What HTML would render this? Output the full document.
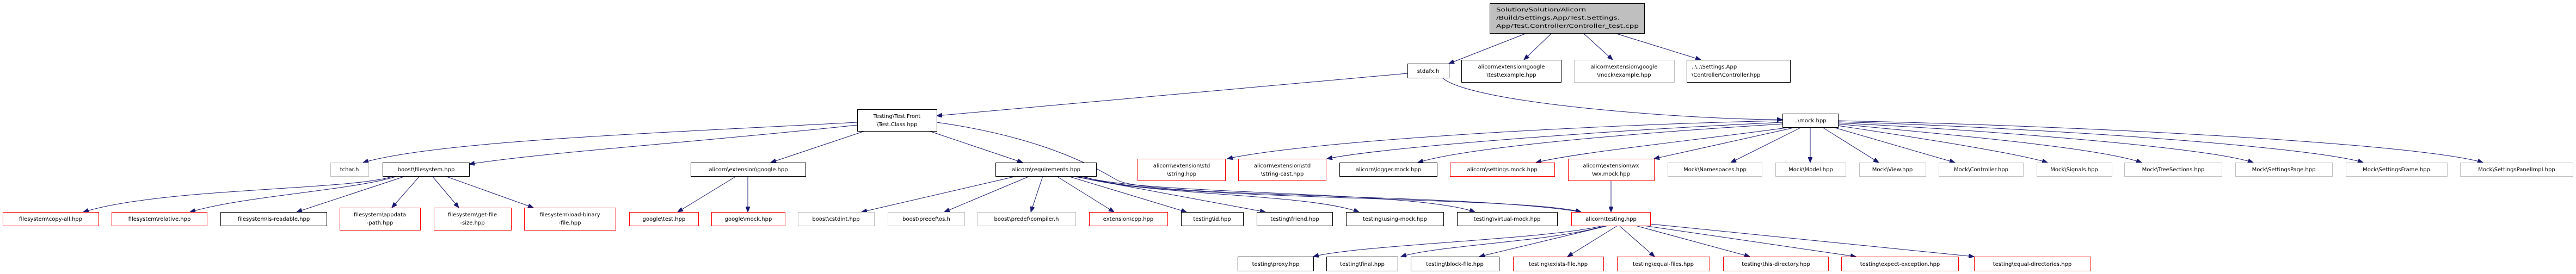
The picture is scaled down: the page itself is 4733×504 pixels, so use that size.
<!DOCTYPE html>
<html><head><meta charset="utf-8"><style>
html,body{margin:0;padding:0;background:#fff;width:4733px;height:504px;overflow:hidden}
text{font-family:"DejaVu Sans","Liberation Sans",sans-serif;font-size:10px;fill:#000}
.b{fill:#fff;stroke:#000;stroke-width:1}
.r{fill:#fff;stroke:#ff0000;stroke-width:1}
.g{fill:#fff;stroke:#bfbfbf;stroke-width:1}
.e{fill:none;stroke:#191970;stroke-width:1;marker-end:url(#a)}
</style></head><body>
<svg width="4733" height="504" xmlns="http://www.w3.org/2000/svg">
<defs><marker id="a" markerUnits="userSpaceOnUse" markerWidth="11" markerHeight="8" refX="10" refY="4" orient="auto"><path d="M0,0 L10,4 L0,8 z" fill="#191970" stroke="#191970"/></marker></defs>
<g>
<!-- edges -->
<path class="e" d="M2805,61 L2662,117"/>
<path class="e" d="M2851,61 L2800,110"/>
<path class="e" d="M2909,61 L2963,110"/>
<path class="e" d="M2967,61 L3125,110"/>
<path class="e" d="M2586,135 L1721,213"/>
<path class="e" d="M2650,143 C2700,190 3100,220 3275,220"/>
<path class="e" d="M1575,225 C1200,245 800,260 667,299"/>
<path class="e" d="M1575,230 C1300,260 1000,280 862,302"/>
<path class="e" d="M1589,241 L1416,299"/>
<path class="e" d="M1707,241 L1879,299"/>
<path class="e" d="M1721,225 C1900,250 2000,300 2050,330 C2100,365 2700,355 2905,390"/>
<path class="e" d="M723,324 C650,350 300,345 153,390"/>
<path class="e" d="M730,324 C650,350 450,360 349,390"/>
<path class="e" d="M745,324 L545,390"/>
<path class="e" d="M771,324 L720,382"/>
<path class="e" d="M794,324 L843,382"/>
<path class="e" d="M818,324 L980,382"/>
<path class="e" d="M1353,324 L1245,390"/>
<path class="e" d="M1374,324 L1374,390"/>
<path class="e" d="M1868,324 L1583,390"/>
<path class="e" d="M1892,324 L1735,390"/>
<path class="e" d="M1916,324 L1894,390"/>
<path class="e" d="M1941,324 L2047,390"/>
<path class="e" d="M1962,324 L2180,390"/>
<path class="e" d="M1970,324 L2325,390"/>
<path class="e" d="M1978,324 C2100,360 2400,355 2497,390"/>
<path class="e" d="M1985,324 C2100,360 2600,350 2710,390"/>
<path class="e" d="M1990,324 C2100,370 2800,360 2905,390"/>
<path class="e" d="M3275,222 C2900,230 2400,260 2255,292"/>
<path class="e" d="M3275,225 C2950,240 2550,270 2438,292"/>
<path class="e" d="M3275,228 C3000,245 2700,270 2605,299"/>
<path class="e" d="M3290,234 C3100,260 2900,280 2822,299"/>
<path class="e" d="M3300,234 L3039,292"/>
<path class="e" d="M3310,234 L3180,299"/>
<path class="e" d="M3326,234 L3326,299"/>
<path class="e" d="M3348,234 L3452,299"/>
<path class="e" d="M3368,234 L3592,299"/>
<path class="e" d="M3377,231 C3500,250 3700,280 3762,299"/>
<path class="e" d="M3377,228 C3550,245 3850,270 3935,299"/>
<path class="e" d="M3377,226 C3650,240 4050,270 4140,299"/>
<path class="e" d="M3377,224 C3750,235 4250,270 4342,299"/>
<path class="e" d="M3377,222 C3850,232 4450,265 4562,299"/>
<path class="e" d="M2960,332 L2960,390"/>
<path class="e" d="M2945,415 C2850,440 2500,450 2413,472"/>
<path class="e" d="M2950,415 C2850,445 2650,450 2574,472"/>
<path class="e" d="M2955,415 L2718,472"/>
<path class="e" d="M2972,415 L2880,472"/>
<path class="e" d="M2975,415 L3040,472"/>
<path class="e" d="M3005,415 L3215,472"/>
<path class="e" d="M3020,415 L3410,472"/>
<path class="e" d="M3032,412 L3627,472"/>
</g>
<g>
<!-- nodes -->
<rect x="2737.5" y="6.5" width="284" height="55" fill="#bfbfbf" stroke="#000"/>
<text x="2749" y="21" textLength="165" lengthAdjust="spacingAndGlyphs">Solution/Solution/Alicorn</text>
<text x="2749" y="36" textLength="227" lengthAdjust="spacingAndGlyphs">/Build/Settings.App/Test.Settings.</text>
<text x="2749" y="51" textLength="262" lengthAdjust="spacingAndGlyphs">App/Test.Controller/Controller_test.cpp</text>

<rect class="b" x="2586.5" y="117.5" width="76" height="26"/><text x="2624" y="134" text-anchor="middle">stdafx.h</text>
<rect class="b" x="2685.5" y="110.5" width="183" height="41"/><text x="2777" y="126" text-anchor="middle">alicorn\extension\google</text><text x="2777" y="141" text-anchor="middle">\test\example.hpp</text>
<rect class="g" x="2892.5" y="110.5" width="184" height="41"/><text x="2984" y="126" text-anchor="middle">alicorn\extension\google</text><text x="2984" y="141" text-anchor="middle">\mock\example.hpp</text>
<rect class="b" x="3099.5" y="110.5" width="190" height="41"/><text x="3108" y="126">..\..\Settings.App</text><text x="3108" y="141">\Controller\Controller.hpp</text>

<rect class="b" x="1575.5" y="201.5" width="146" height="40"/><text x="1648" y="217" text-anchor="middle">Testing\Test.Front</text><text x="1648" y="232" text-anchor="middle">\Test.Class.hpp</text>
<rect class="b" x="3275.5" y="209.5" width="102" height="25"/><text x="3326" y="225" text-anchor="middle">..\mock.hpp</text>

<rect class="g" x="607.5" y="299.5" width="70" height="25"/><text x="642" y="315" text-anchor="middle">tchar.h</text>
<rect class="b" x="703.5" y="299.5" width="159" height="25"/><text x="783" y="315" text-anchor="middle">boost\filesystem.hpp</text>
<rect class="b" x="1269.5" y="299.5" width="211" height="25"/><text x="1375" y="315" text-anchor="middle">alicorn\extension\google.hpp</text>
<rect class="b" x="1829.5" y="299.5" width="185" height="25"/><text x="1922" y="315" text-anchor="middle">alicorn\requirements.hpp</text>
<rect class="r" x="2090.5" y="292.5" width="161" height="40"/><text x="2171" y="308" text-anchor="middle">alicorn\extension\std</text><text x="2171" y="323" text-anchor="middle">\string.hpp</text>
<rect class="r" x="2275.5" y="292.5" width="161" height="40"/><text x="2356" y="308" text-anchor="middle">alicorn\extension\std</text><text x="2356" y="323" text-anchor="middle">\string-cast.hpp</text>
<rect class="b" x="2461.5" y="299.5" width="179" height="25"/><text x="2551" y="315" text-anchor="middle">alicorn\logger.mock.hpp</text>
<rect class="r" x="2664.5" y="299.5" width="192" height="25"/><text x="2760" y="315" text-anchor="middle">alicorn\settings.mock.hpp</text>
<rect class="r" x="2881.5" y="292.5" width="158" height="40"/><text x="2960" y="308" text-anchor="middle">alicorn\extension\wx</text><text x="2960" y="323" text-anchor="middle">\wx.mock.hpp</text>
<rect class="g" x="3064.5" y="299.5" width="173" height="25"/><text x="3151" y="315" text-anchor="middle">Mock\Namespaces.hpp</text>
<rect class="g" x="3262.5" y="299.5" width="129" height="25"/><text x="3327" y="315" text-anchor="middle">Mock\Model.hpp</text>
<rect class="g" x="3416.5" y="299.5" width="122" height="25"/><text x="3477" y="315" text-anchor="middle">Mock\View.hpp</text>
<rect class="g" x="3562.5" y="299.5" width="155" height="25"/><text x="3640" y="315" text-anchor="middle">Mock\Controller.hpp</text>
<rect class="g" x="3742.5" y="299.5" width="138" height="25"/><text x="3811" y="315" text-anchor="middle">Mock\Signals.hpp</text>
<rect class="g" x="3903.5" y="299.5" width="179" height="25"/><text x="3993" y="315" text-anchor="middle">Mock\TreeSections.hpp</text>
<rect class="g" x="4107.5" y="299.5" width="178" height="25"/><text x="4196" y="315" text-anchor="middle">Mock\SettingsPage.hpp</text>
<rect class="g" x="4310.5" y="299.5" width="186" height="25"/><text x="4403" y="315" text-anchor="middle">Mock\SettingsFrame.hpp</text>
<rect class="g" x="4520.5" y="299.5" width="207" height="25"/><text x="4624" y="315" text-anchor="middle">Mock\SettingsPanelImpl.hpp</text>

<rect class="r" x="5.5" y="390.5" width="176" height="25"/><text x="93" y="406" text-anchor="middle">filesystem\copy-all.hpp</text>
<rect class="r" x="205.5" y="390.5" width="175" height="25"/><text x="293" y="406" text-anchor="middle">filesystem\relative.hpp</text>
<rect class="b" x="405.5" y="390.5" width="195" height="25"/><text x="503" y="406" text-anchor="middle">filesystem\is-readable.hpp</text>
<rect class="r" x="624.5" y="382.5" width="148" height="41"/><text x="698" y="398" text-anchor="middle">filesystem\appdata</text><text x="698" y="413" text-anchor="middle">-path.hpp</text>
<rect class="r" x="797.5" y="382.5" width="142" height="41"/><text x="868" y="398" text-anchor="middle">filesystem\get-file</text><text x="868" y="413" text-anchor="middle">-size.hpp</text>
<rect class="r" x="963.5" y="382.5" width="168" height="41"/><text x="1047" y="398" text-anchor="middle">filesystem\load-binary</text><text x="1047" y="413" text-anchor="middle">-file.hpp</text>
<rect class="r" x="1156.5" y="390.5" width="127" height="25"/><text x="1220" y="406" text-anchor="middle">google\test.hpp</text>
<rect class="r" x="1307.5" y="390.5" width="135" height="25"/><text x="1375" y="406" text-anchor="middle">google\mock.hpp</text>
<rect class="g" x="1466.5" y="390.5" width="140" height="25"/><text x="1536" y="406" text-anchor="middle">boost\cstdint.hpp</text>
<rect class="g" x="1631.5" y="390.5" width="141" height="25"/><text x="1702" y="406" text-anchor="middle">boost\predef\os.h</text>
<rect class="g" x="1796.5" y="390.5" width="180" height="25"/><text x="1886" y="406" text-anchor="middle">boost\predef\compiler.h</text>
<rect class="r" x="2001.5" y="390.5" width="144" height="25"/><text x="2073" y="406" text-anchor="middle">extension\cpp.hpp</text>
<rect class="b" x="2170.5" y="390.5" width="114" height="25"/><text x="2227" y="406" text-anchor="middle">testing\id.hpp</text>
<rect class="b" x="2309.5" y="390.5" width="139" height="25"/><text x="2379" y="406" text-anchor="middle">testing\friend.hpp</text>
<rect class="b" x="2473.5" y="390.5" width="179" height="25"/><text x="2563" y="406" text-anchor="middle">testing\using-mock.hpp</text>
<rect class="b" x="2677.5" y="390.5" width="184" height="25"/><text x="2769" y="406" text-anchor="middle">testing\virtual-mock.hpp</text>
<rect class="r" x="2887.5" y="390.5" width="145" height="25"/><text x="2960" y="406" text-anchor="middle">alicorn\testing.hpp</text>

<rect class="b" x="2274.5" y="472.5" width="139" height="26"/><text x="2344" y="489" text-anchor="middle">testing\proxy.hpp</text>
<rect class="b" x="2437.5" y="472.5" width="131" height="26"/><text x="2503" y="489" text-anchor="middle">testing\final.hpp</text>
<rect class="b" x="2592.5" y="472.5" width="162" height="26"/><text x="2673" y="489" text-anchor="middle">testing\block-file.hpp</text>
<rect class="r" x="2780.5" y="472.5" width="166" height="26"/><text x="2863" y="489" text-anchor="middle">testing\exists-file.hpp</text>
<rect class="r" x="2971.5" y="472.5" width="170" height="26"/><text x="3056" y="489" text-anchor="middle">testing\equal-files.hpp</text>
<rect class="r" x="3166.5" y="472.5" width="193" height="26"/><text x="3263" y="489" text-anchor="middle">testing\this-directory.hpp</text>
<rect class="r" x="3383.5" y="472.5" width="215" height="26"/><text x="3491" y="489" text-anchor="middle">testing\expect-exception.hpp</text>
<rect class="r" x="3627.5" y="472.5" width="214" height="26"/><text x="3734" y="489" text-anchor="middle">testing\equal-directories.hpp</text>
</g>
</svg>
</body></html>
